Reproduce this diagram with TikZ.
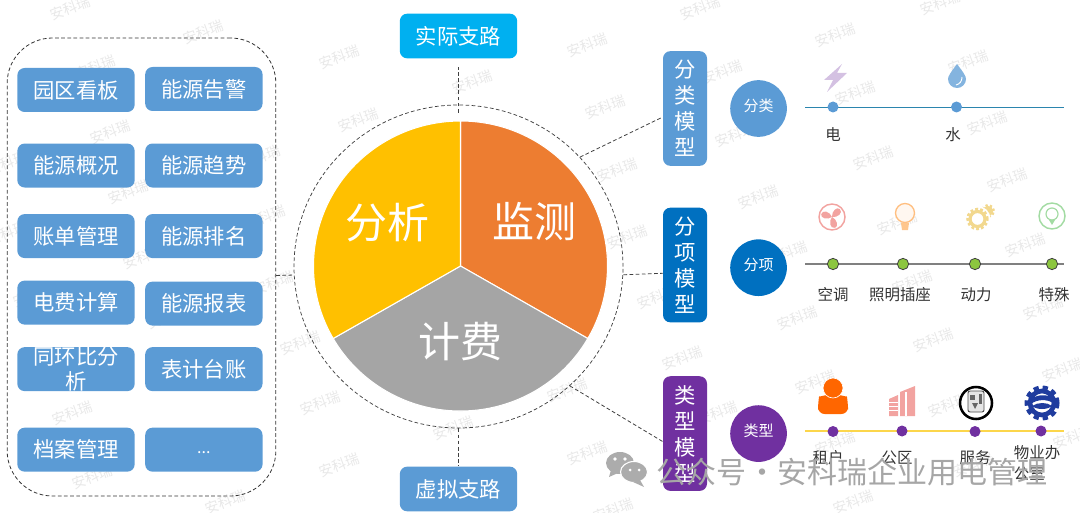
\documentclass[tikz,border=0pt]{standalone}
\usepackage{fontspec}
\setmainfont{Noto Sans CJK SC}
\usetikzlibrary{arrows.meta,positioning,shapes.geometric}

\definecolor{mblue}{HTML}{5B9BD5}
\definecolor{mdeep}{HTML}{0070C0}
\definecolor{mcyan}{HTML}{00B0F0}
\definecolor{mpurple}{HTML}{7030A0}
\definecolor{morange}{HTML}{ED7D31}
\definecolor{myellow}{HTML}{FFC000}
\definecolor{mgray}{HTML}{A5A5A5}
\definecolor{mgreen}{HTML}{8CC63F}
\definecolor{mtext}{HTML}{333333}
\definecolor{mgold}{HTML}{F2D88E}
\definecolor{mpink}{HTML}{F2A3A0}
\definecolor{mpale}{HTML}{A3DBA3}
\definecolor{mnavy}{HTML}{1F3C9E}
\definecolor{mteal}{HTML}{2B85AE}

\begin{document}
\begin{tikzpicture}[
  x=0.75pt, y=0.75pt,
  node distance=7.5pt and 7.5pt,
  wmark/.style={text=black!9, rotate=20, font=\fontsize{10.5}{12}\selectfont, inner sep=0pt},
  mbox/.style={fill=mblue, rounded corners=5.5pt, text=white, align=center, inner sep=0pt,
    minimum width=88pt, minimum height=33pt, font=\fontsize{16}{18.75}\selectfont},
  branch/.style={rounded corners=5.5pt, text=white, inner sep=0pt, minimum width=88pt,
    minimum height=33.5pt, font=\fontsize{16}{18}\selectfont},
  model/.style={rounded corners=5.5pt, text=white, align=center, inner sep=0pt, minimum width=33pt,
    minimum height=86pt, font=\fontsize{16}{19.5}\selectfont},
  badge/.style={circle, text=white, inner sep=0pt, minimum size=42.5pt, text height=9.9pt, text depth=5.5pt,
    font=\fontsize{11.25}{13}\selectfont},
  slice/.style={text=white, inner sep=0pt, font=\fontsize{31.5}{34}\selectfont},
  lab/.style={text=mtext, inner sep=0pt, align=left, font=\fontsize{11.6}{15.5}\selectfont},
  dot/.style={circle, inner sep=0pt, minimum size=8.25pt},
  gdot/.style={dot, fill=mgreen, draw=black!75, line width=0.6pt, minimum size=8.5pt},
  dline/.style={draw=black!75, line width=0.6pt, dash pattern=on 2.8pt off 1.8pt}
]
\useasboundingbox (0,0) rectangle (1080,-513);

% faint marks behind everything
\foreach \wx/\wy [count=\i] in {70/8,339/57,472/82,587/45,605/107,358/120,617/170,300/343,320/403,339/465,
  453/428,567/390,587/453,627/237,835/35,968/62,722/72,855/93,987/123,735/135,873/158,1007/180,
  700/8,940/3,758/197,897/223,1025/245,912/282,657/297,797/318,1043/308,933/340,787/253,682/358,
  815/382,1062/370,948/405,717/413,835/443,1073/437,853/502,973/465,613/510,95/67,203/32,110/132,
  7/163,128/192,260/157,265/217,7/233,143/257,33/295,167/317,273/283,72/413,92/477,225/502}
  \node[wmark] (wm\i) at (\wx,-\wy) {安科瑞};

% left panel
\node[draw=black!80, line width=0.6pt, dash pattern=on 2.8pt off 1.8pt, rounded corners=34pt, minimum width=201.5pt,
  minimum height=343.5pt, inner sep=0pt] (panel) at (141.5,-267) {};
\node[mbox] (park) at (76,-90) {园区看板};
\node[mbox, right=of park, yshift=0.75pt] (alarm) {能源告警};
\node[mbox, below=23.25pt of park] (survey) {能源概况};
\node[mbox, right=of survey] (trend) {能源趋势};
\node[mbox, below=19.5pt of survey] (bill) {账单管理};
\node[mbox, right=of bill] (rank) {能源排名};
\node[mbox, below=16.5pt of bill] (fee) {电费计算};
\node[mbox, right=of fee, yshift=-0.75pt] (report) {能源报表};
\node[mbox, below=16.5pt of fee] (ratio) {};
\node[text=white, align=center, inner sep=0pt, font=\fontsize{16}{18.75}\selectfont] (ratiot) at (ratio) {同环比分\\析};
\node[mbox, right=of ratio] (ledger) {表计台账};
\node[mbox, below=27pt of ratio] (archive) {档案管理};
\node[mbox, right=of archive, font=\fontsize{12}{14}\selectfont] (more) {\strut...};

% pie
\coordinate (pie) at (460.5,-266);
\filldraw[fill=morange, draw=white, line width=0.8pt] (pie) -- ++(90:147 and 145) arc (90:-30:147 and 145) -- cycle;
\filldraw[fill=mgray, draw=white, line width=0.8pt] (pie) -- ++(-30:147 and 145) arc (-30:-150:147 and 145) -- cycle;
\filldraw[fill=myellow, draw=white, line width=0.8pt] (pie) -- ++(-150:147 and 145) arc (210:90:147 and 145) -- cycle;
\node[slice] (analyse) at (387,-223) {分析};
\node[slice] (monitor) at (534,-222) {监测};
\node[slice] (charge) at (460,-342) {计费};
\node[ellipse, dline, line width=0.55pt, minimum width=246.75pt, minimum height=242.25pt, inner sep=0pt] (ring) at (458.5,-266.5) {};

% branches
\node[branch, fill=mcyan, above=34.5pt of ring] (actual) {实际支路};
\node[branch, fill=mblue, below=28.5pt of ring] (virtual) {虚拟支路};

% models
\node[model, fill=mblue] (cls) at (685,-108.5) {分\\类\\模\\型};
\node[model, fill=mdeep, below=31pt of cls] (item) {分\\项\\模\\型};
\node[model, fill=mpurple, below=40pt of item] (kind) {类\\型\\模\\型};
\node[badge, fill=mblue, right=17pt of cls] (clsb) {分类};
\node[badge, fill=mdeep, right=17pt of item, yshift=-2pt] (itemb) {分项};
\node[badge, fill=mpurple, right=17pt of kind] (kindb) {类型};

% connectors
\draw[dline, shorten <=-6pt, shorten >=6pt] (ring.north) -- (actual.south);
\draw[dline] (ring.south) -- (virtual.north);
\draw[dline] ([yshift=-6.4pt]panel.east) -- ([yshift=-6.4pt]ring.west);
\draw[dline] ([yshift=-6.2pt]ring.east) -- ([yshift=-6.2pt]item.west);
\draw[dline] (ring.42) -- ([yshift=-6.4pt]cls.west);
\draw[dline] (ring.-47) -- ([yshift=-6pt]kind.west);

% class row
\coordinate (ca) at (805,-107);
\coordinate (cb) at (1064,-107);
\draw[draw=mteal, line width=0.7pt] (ca) -- (cb);
\node[dot, fill=mblue] (power) at (833,-107) {};
\node[dot, fill=mblue] (water) at (956.5,-107) {};
\node[lab] (powerl) at (833,-135) {电};
\node[lab] (waterl) at (953,-135) {水};
\fill[fill=mpurple!30!white] (842,-64) -- (824,-80) -- (833,-80) -- (827,-92) -- (847,-73) -- (837,-73) -- cycle;
\fill[fill=mblue!75!white] (957,-64) .. controls (951,-72) and (948,-76) .. (948,-79)
  .. controls (948,-84) and (952,-88) .. (957,-88) .. controls (962,-88) and (966,-84) .. (966,-79)
  .. controls (966,-76) and (963,-72) .. (957,-64) -- cycle;
\draw[white, line width=0.7pt] (962,-77) .. controls (962,-81) and (960,-84) .. (956,-85);

% item row
\coordinate (ia) at (805,-264);
\coordinate (ib) at (1064,-264);
\draw[draw=black!50, line width=1.5pt] (ia) -- (ib);
\node[gdot] (air) at (833,-264) {};
\node[gdot] (light) at (903,-264) {};
\node[gdot] (drive) at (975,-264) {};
\node[gdot] (spec) at (1052,-264) {};
\node[lab] (airl) at (833,-295) {空调};
\node[lab] (lightl) at (900,-295) {照明插座};
\node[lab] (drivel) at (976,-295) {动力};
\node[lab] (specl) at (1054,-295) {特殊};
% fan
\draw[draw=mpink, line width=1.1pt] (832,-217) circle (13);
\foreach \a in {35,155,275}
  \fill[mpink, rotate around={\a:(832,-217)}] (832,-217) .. controls (835,-212) and (842,-211) .. (843,-215)
    .. controls (844,-220) and (836,-221) .. (832,-217) -- cycle;
% bulb
\draw[draw=orange!50!white, fill=orange!6, line width=1pt] (905,-213) circle (9.5);
\fill[orange!45!white] (901,-223) -- (909,-223) -- (908,-230) -- (902,-230) -- cycle;
% gears
\draw[draw=mgold, line width=2.4pt, dash pattern=on 1.8pt off 1.4pt] (988,-211) circle (5.5);
\fill[mgold] (988,-211) circle (5);
\fill[white] (977.5,-219) circle (13);
\draw[draw=mgold, line width=2.6pt, dash pattern=on 2pt off 1.6pt] (977.5,-219) circle (9.5);
\draw[draw=mgold, line width=2.4pt] (977.5,-219) circle (7.5);
% green bulb
\draw[draw=mpale, line width=1.1pt] (1052,-216) circle (13);
\draw[draw=mpale, line width=0.9pt] (1052,-214) circle (6);
\fill[mpale] (1049,-220) -- (1055,-220) -- (1052,-225) -- cycle;

% kind row
\coordinate (ka) at (805,-431);
\coordinate (kb) at (1064,-431);
\draw[draw=yellow!60!orange!70!white, line width=1pt] (ka) -- (kb);
\node[dot, fill=mpurple] (tenant) at (833,-431.5) {};
\node[dot, fill=mpurple] (area) at (902,-431) {};
\node[dot, fill=mpurple] (serve) at (975,-431.5) {};
\node[dot, fill=mpurple] (office) at (1041,-431) {};
\node[lab] (tenantl) at (828,-458) {租户};
\node[lab] (areal) at (897,-458) {公区};
\node[lab] (servel) at (975,-458) {服务};
\node[lab] (officel) at (1037,-463) {物业办\\公室};
% person
\fill[orange!80!red, rounded corners=5pt] (818,-414) -- (818,-403) .. controls (819,-397) and (826,-395) .. (833,-395)
  .. controls (840,-395) and (847,-397) .. (848,-403) -- (848,-414) -- cycle;
\draw[white, fill=orange!80!red, line width=0.5pt] (833,-388) circle (10);
% building
\fill[mpink] (900,-416) -- (900,-392) -- (915,-386) -- (915,-416) -- cycle;
\fill[mpink] (889,-416) -- (889,-399) -- (898,-395) -- (898,-416) -- cycle;
\foreach \sy in {402,406,410}
  \draw[white, line width=0.7pt] (889,-\sy) -- (898,-\sy);
\draw[white, line width=0.8pt] (906,-392) -- (906,-416);
% seal
\draw[black, line width=1.9pt, fill=white] (976,-403) circle (16);
\draw[black!70, line width=0.7pt, fill=black!10, rounded corners=1.5pt] (968,-391) rectangle (984,-412);
\fill[black!60] (970,-395) rectangle (975,-400);
\fill[black!60] (979,-394) rectangle (982,-404);
\fill[black!60] (972,-403) -- (978,-403) -- (975,-409) -- cycle;
% gear
\draw[draw=mnavy, line width=3pt, dash pattern=on 4pt off 2.9pt] (1042,-403) circle (15.5);
\draw[draw=mnavy, fill=white, line width=3.5pt] (1042,-403) circle (12);
\fill[mnavy] (1031,-399) .. controls (1038,-394) and (1048,-394) .. (1054,-399) -- (1053,-403)
  .. controls (1047,-399) and (1037,-399) .. (1031,-404) -- cycle;
\fill[mnavy] (1032,-406) .. controls (1038,-402) and (1047,-402) .. (1052,-406)
  .. controls (1047,-410) and (1037,-410) .. (1032,-406) -- cycle;

% footer
\fill[gray!65] (620,-463) ellipse (14 and 11);
\fill[gray!65] (611,-470) -- (609,-477) -- (618,-473) -- cycle;
\draw[white, line width=0.8pt, fill=gray!65] (634,-472) ellipse (13.5 and 10.5);
\fill[gray!65] (640,-480) -- (644,-487) -- (633,-482) -- cycle;
\fill[white] (615,-459) circle (1.8) (625,-459) circle (1.8) (630,-470) circle (1.5) (639,-470) circle (1.5);
\node[text=black!35, inner sep=0pt, anchor=west, font=\fontsize{22.5}{24}\selectfont] (wechat) at (656,-472) {公众号\kern-4.4pt{} · \kern-4.4pt{}安科瑞企业用电管理};
\end{tikzpicture}
\end{document}
